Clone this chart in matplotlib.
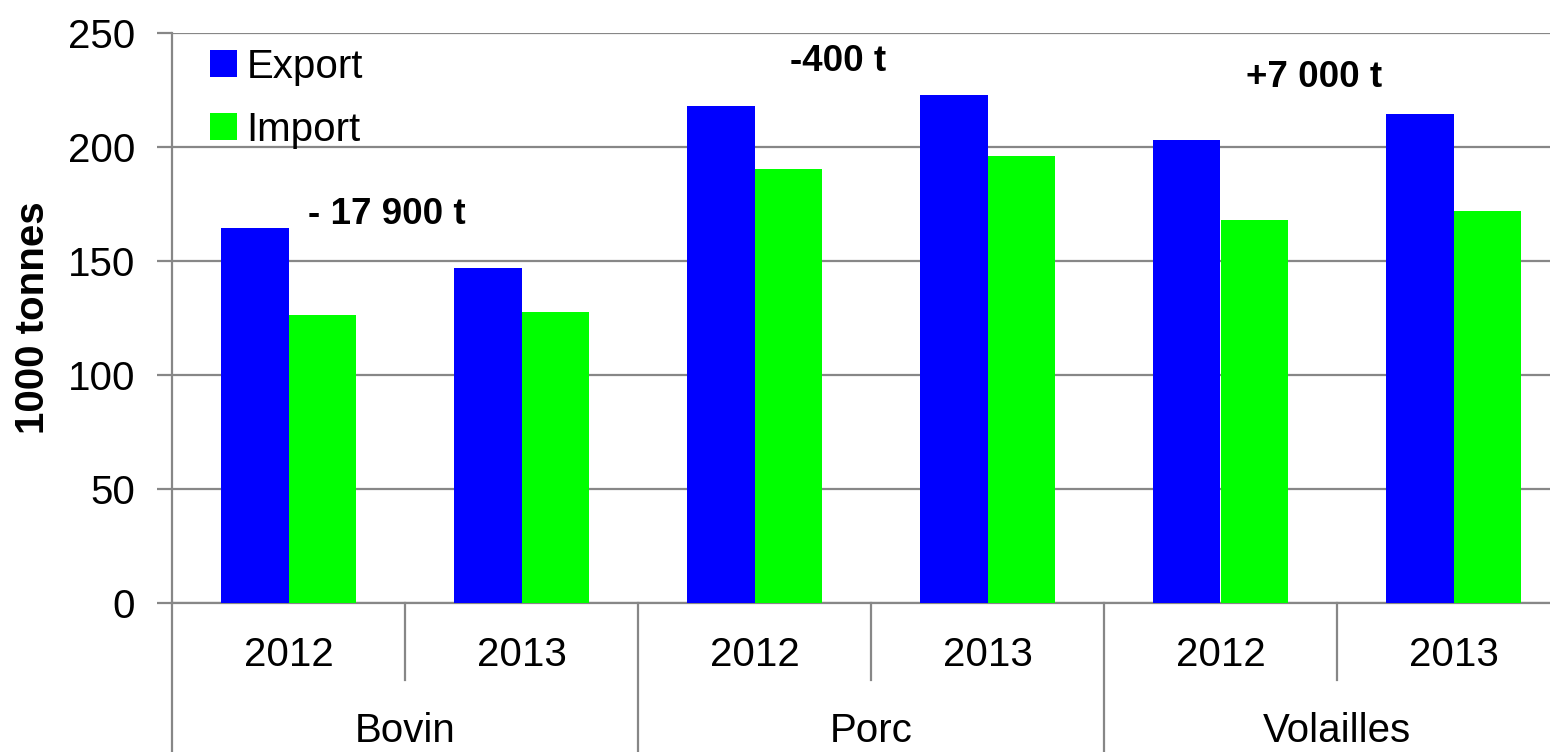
import matplotlib.pyplot as plt
import matplotlib.transforms as mtransforms
import numpy as np

# data (1000 tonnes)
categories = ['Bovin', 'Porc', 'Volailles']
years = ['2012', '2013']
export_vals = [164.5, 146.9, 218.0, 222.7, 203.1, 214.5]
import_vals = [126.3, 127.6, 190.3, 196.1, 168.0, 171.9]
diff_labels = ['- 17 900 t', '-400 t', '+7 000 t']
diff_pos = [(0.42, 170.5), (2.36, 237.5), (4.40, 230.5)]

plt.rcParams['font.family'] = ['Liberation Sans', 'DejaVu Sans']
grey = '#878787'

fig = plt.figure(figsize=(15.5, 7.52), dpi=100)
ax = fig.add_axes([172 / 1550, 149 / 752, 1398 / 1550, 570 / 752])

x = np.arange(len(export_vals))
w = 0.29
ax.bar(x - w / 2, export_vals, w, color='#0000FF', label='Export', zorder=3)
ax.bar(x + w / 2, import_vals, w, color='#00FF00', label='Import', zorder=3)

ax.set_xlim(-0.5, len(x) - 0.5)
ax.set_ylim(0, 250)
ax.set_yticks(range(0, 251, 50))
ax.yaxis.grid(True, color=grey, linewidth=1.6, zorder=0)
ax.tick_params(axis='y', length=10.5, width=1.6, color=grey, pad=16, labelsize=29)
ax.set_xticks([])

for s in ['top', 'right']:
    ax.spines[s].set_visible(False)
for s in ['left', 'bottom']:
    ax.spines[s].set_color(grey)
    ax.spines[s].set_linewidth(1.6)

ax.set_ylabel('1000 tonnes', fontsize=29, fontweight='bold', labelpad=11)

# two level category axis
trans = mtransforms.blended_transform_factory(ax.transData, ax.transAxes)
for i, xi in enumerate(x):
    ax.text(xi, -0.092, years[i % 2], transform=trans, ha='center', va='center', fontsize=29)
for j, cat in enumerate(categories):
    ax.text(2 * j + 0.5, -0.225, cat, transform=trans, ha='center', va='center', fontsize=29)
for j in range(len(categories)):
    ax.plot([2 * j + 0.5] * 2, [0, -0.135], transform=trans, color=grey, lw=1.6, clip_on=False)
for xs in [-0.5, 1.5, 3.5, 5.5]:
    ax.plot([xs] * 2, [0, -0.27], transform=trans, color=grey, lw=1.6, clip_on=False)

for lbl, (px, py) in zip(diff_labels, diff_pos):
    ax.text(px, py, lbl, ha='center', va='center', fontsize=26.5, fontweight='bold', zorder=4)

ax.legend(loc='upper left', bbox_to_anchor=(0.0275, 0.974), frameon=False, fontsize=29,
          handlelength=0.65, handleheight=0.65, handletextpad=0.25, labelspacing=0.62,
          borderpad=0.0, borderaxespad=0.0)

plt.savefig('out.png', dpi=100)
